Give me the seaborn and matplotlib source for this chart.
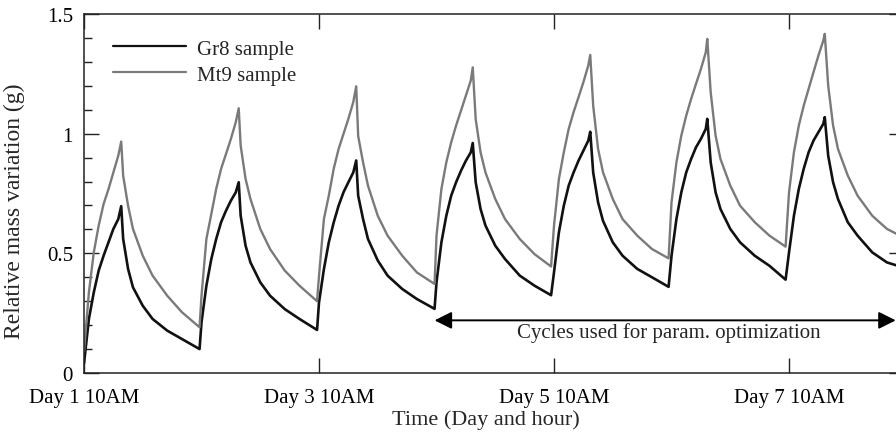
import matplotlib
matplotlib.use("Agg")
import matplotlib.pyplot as plt
import seaborn as sns
import pandas as pd
from matplotlib.ticker import MultipleLocator, NullLocator, FixedLocator

# ---------------- data (hours after Day 1 10AM) ----------------
hours = [
    0, 1, 2, 3, 4, 5, 6, 7, 7.6, 8, 9, 10, 12, 14, 17, 20, 23.6,
    24, 25, 26, 27, 28, 29, 30, 31, 31.6, 32, 33, 34, 36, 38, 41, 44, 47.6,
    48, 49, 50, 51, 52, 53, 54, 55, 55.6, 56, 57, 58, 60, 62, 65, 68, 71.6,
    72, 73, 74, 75, 76, 77, 78, 79, 79.4, 80, 81, 82, 84, 86, 89, 92, 95.4,
    96, 97, 98, 99, 100, 101, 102, 103, 103.4, 104, 105, 106, 108, 110, 113, 116, 119.4,
    120, 121, 122, 123, 124, 125, 126, 127, 127.3, 128, 129, 130, 132, 134, 137, 140, 143.3,
    144, 145, 146, 147, 148, 149, 150, 151, 151.3, 152, 153, 154, 156, 158, 161, 164, 165.9,
]

mt9 = [
    0.09, 0.337, 0.504, 0.616, 0.706, 0.768, 0.838, 0.908, 0.967, 0.824, 0.699, 0.602, 0.490, 0.407, 0.323, 0.254, 0.191,
    0.323, 0.56, 0.664, 0.769, 0.853, 0.915, 0.978, 1.048, 1.106, 0.95, 0.811, 0.727, 0.602, 0.518, 0.428, 0.365, 0.30,
    0.406, 0.643, 0.741, 0.853, 0.936, 0.999, 1.062, 1.132, 1.198, 0.99, 0.88, 0.783, 0.657, 0.574, 0.49, 0.42, 0.372,
    0.574, 0.769, 0.88, 0.964, 1.034, 1.096, 1.159, 1.222, 1.277, 1.061, 0.922, 0.838, 0.727, 0.643, 0.56, 0.497, 0.445,
    0.616, 0.811, 0.922, 1.02, 1.09, 1.152, 1.215, 1.285, 1.329, 1.117, 0.936, 0.839, 0.727, 0.643, 0.574, 0.518, 0.479,
    0.713, 0.88, 0.992, 1.075, 1.145, 1.208, 1.27, 1.34, 1.396, 1.173, 0.992, 0.894, 0.783, 0.699, 0.63, 0.574, 0.528,
    0.755, 0.922, 1.034, 1.117, 1.187, 1.257, 1.326, 1.389, 1.417, 1.201, 1.034, 0.936, 0.825, 0.741, 0.657, 0.602, 0.582,
]

gr8 = [
    0.04, 0.226, 0.337, 0.428, 0.490, 0.546, 0.602, 0.643, 0.697, 0.560, 0.435, 0.358, 0.281, 0.226, 0.177, 0.142, 0.100,
    0.212, 0.365, 0.476, 0.56, 0.63, 0.678, 0.72, 0.755, 0.797, 0.657, 0.532, 0.462, 0.379, 0.323, 0.267, 0.226, 0.18,
    0.295, 0.434, 0.546, 0.629, 0.699, 0.755, 0.797, 0.838, 0.888, 0.741, 0.643, 0.56, 0.47, 0.407, 0.351, 0.309, 0.268,
    0.379, 0.546, 0.657, 0.741, 0.797, 0.845, 0.887, 0.922, 0.961, 0.797, 0.685, 0.616, 0.532, 0.476, 0.407, 0.365, 0.325,
    0.421, 0.588, 0.699, 0.783, 0.838, 0.887, 0.929, 0.971, 1.008, 0.838, 0.713, 0.636, 0.546, 0.49, 0.435, 0.40, 0.36,
    0.49, 0.643, 0.755, 0.838, 0.894, 0.943, 0.978, 1.02, 1.062, 0.88, 0.755, 0.685, 0.602, 0.546, 0.49, 0.448, 0.39,
    0.504, 0.657, 0.769, 0.853, 0.922, 0.971, 1.006, 1.041, 1.069, 0.908, 0.797, 0.727, 0.63, 0.574, 0.504, 0.462, 0.45,
]

series_names = ["Gr8 sample", "Mt9 sample"]
xtick_pos = [0, 48, 96, 144]
xtick_labels = ["Day 1 10AM", "Day 3 10AM", "Day 5 10AM", "Day 7 10AM"]
ytick_pos = [0, 0.5, 1.0, 1.5]
ytick_labels = ["0", "0.5", "1", "1.5"]
arrow_span = [71.6, 165.8]
arrow_level = 0.22
arrow_text = "Cycles used for param. optimization"

# ---------------- style ----------------
sns.set_style("ticks")
plt.rcParams["font.family"] = ["Liberation Serif", "DejaVu Serif"]
plt.rcParams["axes.linewidth"] = 1.1
plt.rcParams["axes.edgecolor"] = "#222222"

df = pd.concat([
    pd.DataFrame({"hours": hours, "mass": gr8, "sample": series_names[0]}),
    pd.DataFrame({"hours": hours, "mass": mt9, "sample": series_names[1]}),
], ignore_index=True)

fig = plt.figure(figsize=(8.96, 4.39), dpi=100)
ax = fig.add_axes([84 / 896, 1 - 374 / 439, 820 / 896, 359 / 439])

gray = "#7a7a7a"
sns.lineplot(data=df, x="hours", y="mass", hue="sample",
             palette={series_names[0]: "#111111", series_names[1]: gray},
             estimator=None, sort=False, ax=ax, linewidth=1.9)
for line in ax.lines:
    if line.get_color() == gray:
        line.set_linewidth(1.7)

ax.set_xlim(0, 820 / 4.896)
ax.set_ylim(0, 1.5)

ax.xaxis.set_major_locator(FixedLocator(xtick_pos))
ax.set_xticklabels(xtick_labels)
ax.xaxis.set_minor_locator(NullLocator())
ax.yaxis.set_major_locator(FixedLocator(ytick_pos))
ax.set_yticklabels(ytick_labels)
ax.yaxis.set_minor_locator(MultipleLocator(0.1))

ax.tick_params(which="both", direction="in", top=True, right=True,
               labelsize=15, colors="#222222", labelcolor="black")
ax.tick_params(which="major", length=11, width=1.0)
ax.tick_params(axis="x", which="major", pad=11)
ax.tick_params(axis="y", which="major", pad=8)
ax.tick_params(which="minor", length=5.5, width=1.0)
ax.tick_params(axis="x", which="minor", top=False, bottom=False)

ax.set_xlabel("Time (Day and hour)", fontsize=16)
ax.set_ylabel("Relative mass variation (g)", fontsize=17)
ax.xaxis.set_label_coords(0.49, -0.102)
ax.yaxis.set_label_coords(-0.072, 0.454)

# arrow + annotation
ax.annotate("", xy=(arrow_span[0], arrow_level), xytext=(arrow_span[1], arrow_level),
            arrowprops=dict(arrowstyle="<|-|>", color="black", lw=1.4,
                            mutation_scale=26, shrinkA=0, shrinkB=0))
ax.text(119.5, 0.172, arrow_text, ha="center", va="center", fontsize=15)

leg = ax.legend(loc="upper left", bbox_to_anchor=(0.035, 0.93), frameon=False,
                fontsize=15, handlelength=3.5, handletextpad=0.55,
                labelspacing=0.3, borderpad=0, borderaxespad=0)
for h in leg.get_lines():
    h.set_linewidth(1.6)

fig.savefig("out.png", dpi=100)
